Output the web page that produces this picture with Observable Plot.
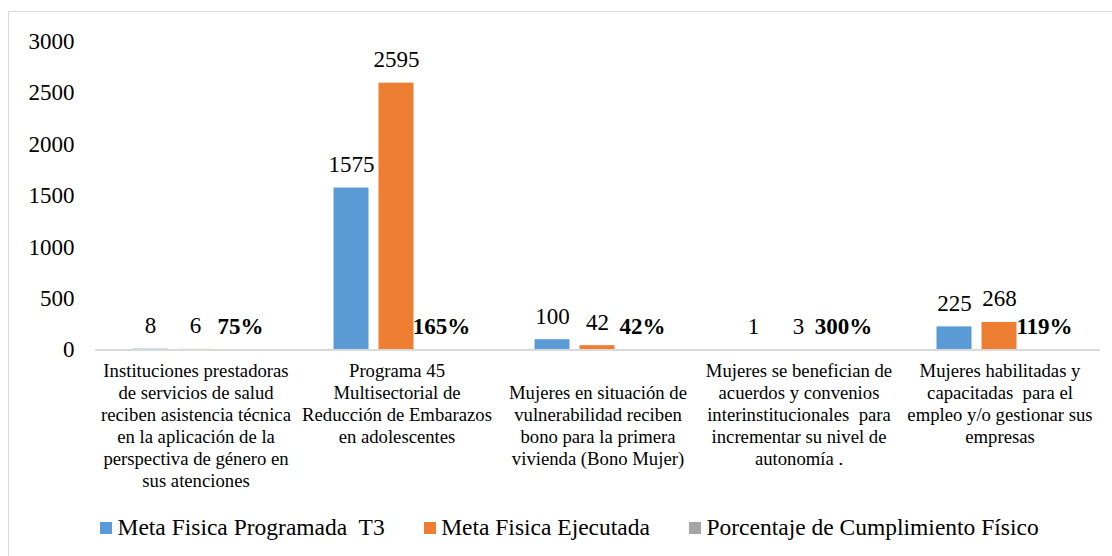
<!DOCTYPE html>
<html>
<head>
<meta charset="utf-8">
<script src="https://cdn.jsdelivr.net/npm/d3@7"></script>
<script src="https://cdn.jsdelivr.net/npm/@observablehq/plot@0.6"></script>
<style>
  html, body { margin: 0; padding: 0; background: #fff; overflow: hidden; }
  #wrap { position: relative; width: 1112px; height: 556px; overflow: hidden; font-family: "Liberation Serif", "Times New Roman", serif; }
  #frame { position: absolute; left: 8px; top: 11px; width: 1300px; height: 700px; border: 1.5px solid #d9d9d9; box-sizing: border-box; }
  #chart { position: absolute; left: 0; top: 0; }
  #chart svg { white-space: pre; }
  #legend { position: absolute; left: 100px; top: 514px; }
  #legend .lg-swatches, #legend .lg-swatch, #legend span { font-family: "Liberation Serif", "Times New Roman", serif !important; }
  #legend .lg-swatches { font-size: 23.5px !important; color: #000; margin: 0 !important; min-height: 0 !important; white-space: pre; line-height: 27px; }
  #legend .lg-swatch { margin-right: 39px !important; }
  #legend .lg-swatch > svg { margin-right: 5.5px !important; }
</style>
</head>
<body>
<div id="wrap">
  <div id="frame"></div>
  <div id="chart"></div>
  <div id="legend"></div>
</div>
<script>
const categories = [
  "Instituciones prestadoras de servicios de salud reciben asistencia técnica en la aplicación de la perspectiva de género en sus atenciones",
  "Programa 45 Multisectorial de Reducción de Embarazos en adolescentes",
  "Mujeres en situación de vulnerabilidad reciben bono para la primera vivienda (Bono Mujer)",
  "Mujeres se benefician de acuerdos y convenios interinstitucionales  para incrementar su nivel de autonomía .",
  "Mujeres habilitadas y capacitadas  para el empleo y/o gestionar sus empresas"
];
const categoryLabels = [
  "Instituciones prestadoras\nde servicios de salud\nreciben asistencia técnica\nen la aplicación de la\nperspectiva de género en\nsus atenciones",
  "Programa 45\nMultisectorial de\nReducción de Embarazos\nen adolescentes",
  " \nMujeres en situación de\nvulnerabilidad reciben\nbono para la primera\nvivienda (Bono Mujer)",
  "Mujeres se benefician de\nacuerdos y convenios\ninterinstitucionales  para\nincrementar su nivel de\nautonomía .",
  "Mujeres habilitadas y\ncapacitadas  para el\nempleo y/o gestionar sus\nempresas"
];
const seriesNames = ["Meta Fisica Programada  T3", "Meta Fisica Ejecutada", "Porcentaje de Cumplimiento Físico"];
const seriesColors = ["#5B9BD5", "#ED7D31", "#A5A5A5"];
const programada = [8, 1575, 100, 1, 225];
const ejecutada = [6, 2595, 42, 3, 268];
const porcentaje = [0.75, 1.65, 0.42, 3.00, 1.19];
const yTicks = [0, 500, 1000, 1500, 2000, 2500, 3000];

const data = [];
categories.forEach((c, i) => {
  data.push({category: c, series: seriesNames[0], value: programada[i], label: String(programada[i]), pct: false});
  data.push({category: c, series: seriesNames[1], value: ejecutada[i], label: String(ejecutada[i]), pct: false});
  data.push({category: c, series: seriesNames[2], value: porcentaje[i], label: Math.round(porcentaje[i] * 100) + "%", pct: true});
});
const labelOf = new Map(categories.map((c, i) => [c, categoryLabels[i]]));
const font = "Liberation Serif, Times New Roman, serif";

const chart = Plot.plot({
  width: 1112,
  height: 510,
  marginLeft: 94.5,
  marginRight: 12.5,
  marginTop: 41,
  marginBottom: 160.5,
  style: {fontFamily: font, color: "#000", background: "transparent", overflow: "visible"},
  fx: {domain: categories, padding: 0, axis: null, label: null},
  x: {domain: seriesNames, paddingInner: 0.222, paddingOuter: 0.844, axis: null},
  y: {domain: [0, 3000], axis: null, label: null},
  color: {domain: seriesNames, range: seriesColors},
  marks: [
    Plot.barY(data, {fx: "category", x: "series", y: "value", fill: "series"}),
    Plot.ruleY([0], {stroke: "#d9d9d9", strokeWidth: 2}),
    Plot.axisY({ticks: yTicks, tickSize: 0, tickPadding: 21, fontSize: 23, fill: "#000", fontFamily: font,
      tickFormat: (d) => String(d), label: null}),
    Plot.axisFx({anchor: "bottom", tickSize: 0, tickPadding: 12, fontSize: 18.7, lineHeight: 1.166, fill: "#000", fontFamily: font,
      tickFormat: (d) => labelOf.get(d), lineAnchor: "top", label: null}),
    Plot.text(data.filter(d => !d.pct), {fx: "category", x: "series", y: "value", text: "label",
      lineAnchor: "bottom", dy: -16, fontSize: 23, fill: "#000", fontFamily: font}),
    Plot.text(data.filter(d => d.pct), {fx: "category", x: "series", y: "value", text: "label",
      lineAnchor: "bottom", dy: -16, fontSize: 23, fontWeight: "bold", fill: "#000", fontFamily: font})
  ]
});
document.getElementById("chart").appendChild(chart);

const legend = Plot.legend({
  color: {domain: seriesNames, range: seriesColors},
  className: "lg",
  swatchSize: 12
});
document.getElementById("legend").appendChild(legend);
</script>
</body>
</html>
